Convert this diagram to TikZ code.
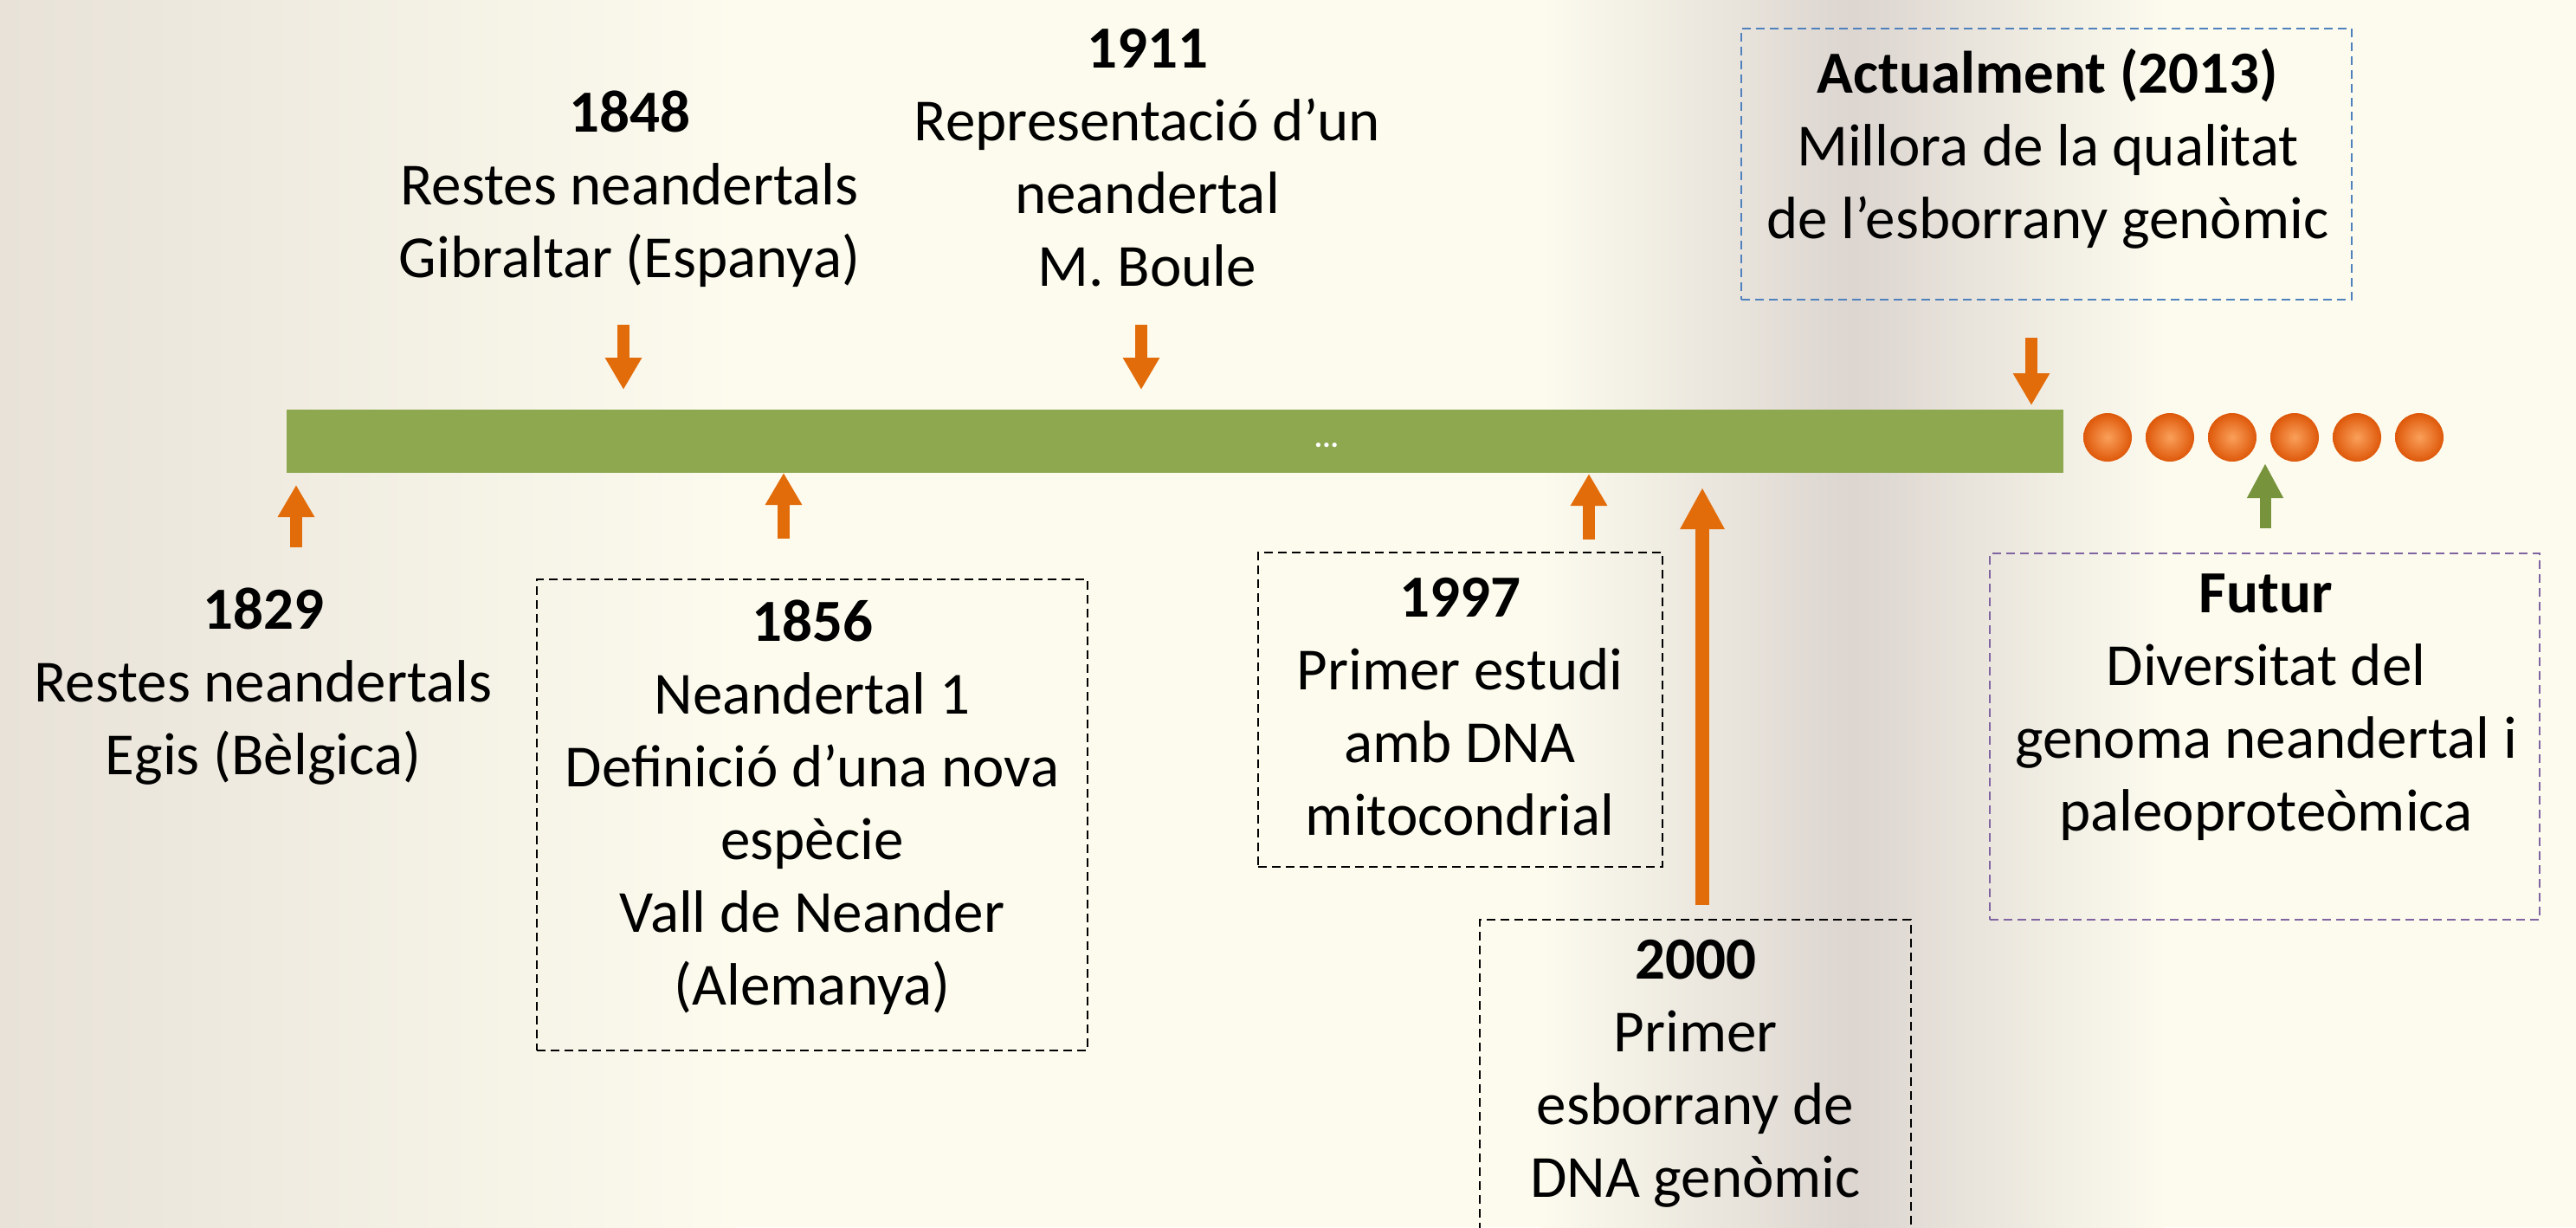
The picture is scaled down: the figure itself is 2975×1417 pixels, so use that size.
\documentclass[tikz,border=0pt]{standalone}
\usepackage{fontspec}
\setmainfont{Carlito}
\usetikzlibrary{arrows.meta}
\definecolor{bgc}{RGB}{252,251,238}
\definecolor{bgleft}{RGB}{232,226,216}
\definecolor{bgband}{RGB}{220,213,208}
\definecolor{barg}{RGB}{142,168,80}
\definecolor{arro}{RGB}{227,108,10}
\definecolor{arrg}{RGB}{119,147,60}
\definecolor{boxblue}{RGB}{79,129,189}
\definecolor{boxpurple}{RGB}{128,100,162}
\definecolor{dotin}{RGB}{250,160,90}
\definecolor{dotout}{RGB}{222,88,10}
\tikzset{
  txt/.style={align=center, inner sep=0pt, font=\fontsize{13.8}{16.8}\selectfont, text=black},
  dbox/.style={draw=black, dash pattern=on 2pt off 1.2pt, line width=0.55pt, inner sep=0pt},
  orarrow/.style={draw=arro, line width=2.8pt, -{Triangle[width=8pt,length=7.4pt]}},
  bigarrow/.style={draw=arro, line width=3.2pt, -{Triangle[width=9.6pt,length=9.6pt]}},
  grarrow/.style={draw=arrg, line width=2.6pt, -{Triangle[width=7.8pt,length=8pt]}},
  futdot/.style={circle, inner sep=0pt, minimum size=11.2pt, inner color=dotin, outer color=dotout}
}
\begin{document}
\begin{tikzpicture}[x=0.2pt,y=-0.2pt]
\useasboundingbox (0,0) rectangle (2975,1417);
% background
\fill[bgc] (0,0) rectangle (2975,1417);
\shade[left color=bgleft, right color=bgc, shading angle=90] (0,0) rectangle (850,1417);
\shade[left color=bgc, right color=bgc, middle color=bgband] (1780,0) rectangle (2500,1417);

% timeline bar
\node[fill=barg, inner sep=0pt, minimum width=410.4pt, minimum height=14.6pt, anchor=north west] (bar) at (330,472) {};
\node[text=white, inner sep=0pt, font=\fontsize{7}{8}\selectfont\bfseries] (dots) at (1532,514) {...};

% future dots
\foreach \i in {0,...,5} {
  \node[futdot] (fd\i) at ({2434+72*\i},505) {};
}

% labels above
\node[txt] (t1848) at (727,218) {\textbf{1848}\\Restes neandertals\\Gibraltar (Espanya)};
\node[txt] (t1911) at (1325,182) {\textbf{1911}\\Representació d’un\\neandertal\\M. Boule};
\node[dbox, draw=boxblue, minimum width=141pt, minimum height=62.6pt] (bact) at (2363.5,189.5) {};
\node[txt] (tact) at (2365,172) {\textbf{Actualment (2013)}\\Millora de la qualitat\\de l’esborrany genòmic};

% labels below
\node[txt] (t1829) at (304,793) {\textbf{1829}\\Restes neandertals\\Egis (Bèlgica)};
\node[dbox, minimum width=127.2pt, minimum height=108.8pt] (b1856) at (938,941) {};
\node[txt] (t1856) at (938,932) {\textbf{1856}\\Neandertal 1\\Definició d’una nova\\espècie\\Vall de Neander\\(Alemanya)};
\node[dbox, minimum width=93.4pt, minimum height=72.6pt] (b1997) at (1686.5,819.5) {};
\node[txt] (t1997) at (1686,816) {\textbf{1997}\\Primer estudi\\amb DNA\\mitocondrial};
\node[dbox, minimum width=99.6pt, minimum height=79.6pt] (b2000) at (1958,1261) {};
\node[txt] (t2000) at (1958,1240) {\textbf{2000}\\Primer\\esborrany de\\DNA genòmic};
\node[dbox, draw=boxpurple, minimum width=127pt, minimum height=84.6pt] (bfut) at (2615.5,850.5) {};
\node[txt] (tfut) at (2617,817) {\textbf{Futur}\\Diversitat del\\genoma neandertal i\\paleoproteòmica};

% arrow end points
\coordinate (s1829) at (342,632);  \coordinate (e1829) at (342,560);
\coordinate (s1848) at (720,375);  \coordinate (e1848) at (720,450);
\coordinate (s1856) at (905,622);  \coordinate (e1856) at (905,546);
\coordinate (s1911) at (1318,375); \coordinate (e1911) at (1318,450);
\coordinate (s1997) at (1835,623); \coordinate (e1997) at (1835,547);
\coordinate (s2000) at (1966,1045);\coordinate (e2000) at (1966,563);
\coordinate (sact) at (2346,390);  \coordinate (eact) at (2346,468);
\coordinate (sfut) at (2616,610);  \coordinate (efut) at (2616,535);

\draw[orarrow] (s1829) -- (e1829);
\draw[orarrow] (s1848) -- (e1848);
\draw[orarrow] (s1856) -- (e1856);
\draw[orarrow] (s1911) -- (e1911);
\draw[orarrow] (s1997) -- (e1997);
\draw[bigarrow] (s2000) -- (e2000);
\draw[orarrow] (sact) -- (eact);
\draw[grarrow] (sfut) -- (efut);
\end{tikzpicture}
\end{document}
